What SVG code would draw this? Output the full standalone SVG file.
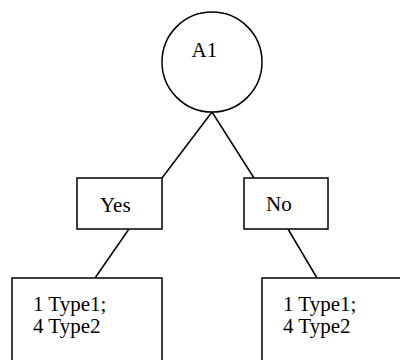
<svg xmlns="http://www.w3.org/2000/svg" width="400" height="360" viewBox="0 0 400 360">
<style>
.s{fill:#fff;stroke:#000;stroke-width:1.5}
.c line{stroke:#000;stroke-width:1.5}
.t{font-family:"Times New Roman","Liberation Serif","DejaVu Serif",serif;font-size:21px;fill:#000}
</style>
<rect width="400" height="360" fill="#fff"/>
<g class="c" id="connectors">
<line x1="212" y1="112" x2="162" y2="178"/>
<line x1="212" y1="112" x2="254" y2="178"/>
<line x1="129" y1="229" x2="95" y2="278"/>
<line x1="288" y1="229" x2="317" y2="278"/>
</g>
<g id="a1"><circle class="s" cx="212" cy="62" r="50"/><text class="t" x="191.5" y="57">A1</text></g>
<g id="yes"><rect class="s" x="77" y="178" width="85" height="51"/><text class="t" x="100" y="211.5">Yes</text></g>
<g id="no"><rect class="s" x="244" y="178" width="84" height="51"/><text class="t" x="266" y="211">No</text></g>
<g id="leafYes"><rect class="s" x="12" y="278" width="150" height="100"/><text class="t" x="33" y="311">1 Type1;</text><text class="t" x="33" y="333">4 Type2</text></g>
<g id="leafNo"><rect class="s" x="262" y="278" width="150" height="100"/><text class="t" x="283" y="311">1 Type1;</text><text class="t" x="283" y="333">4 Type2</text></g>
</svg>
